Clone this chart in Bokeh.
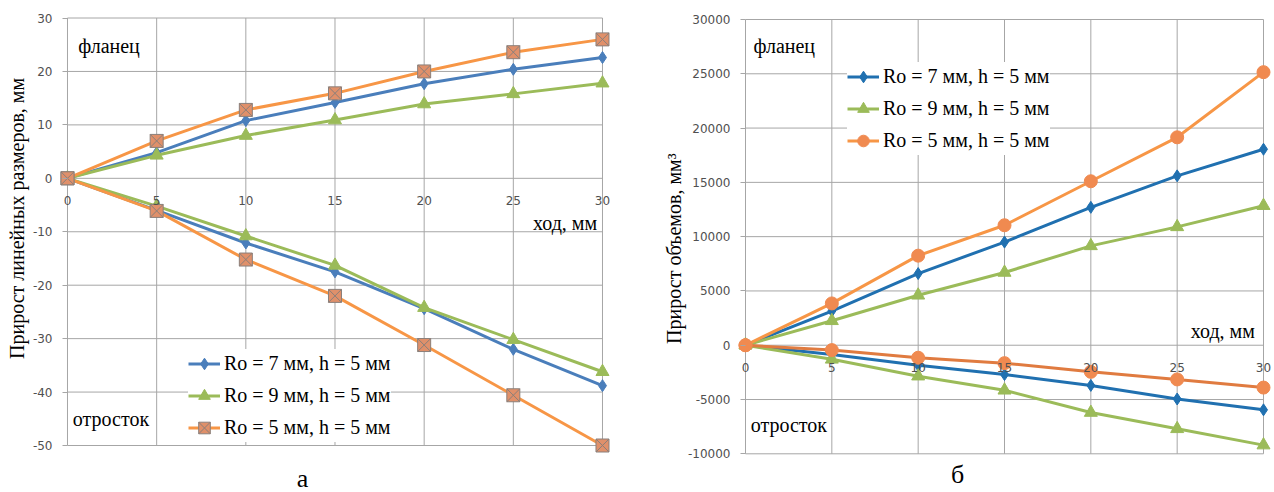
import math
from bokeh.plotting import figure
from bokeh.layouts import row
from bokeh.models import Range1d, FixedTicker, Label, Legend, LegendItem, PrintfTickFormatter
from bokeh.embed import file_html
from bokeh.resources import INLINE

# ---------------- data ----------------
x_mm = [0, 5, 10, 15, 20, 25, 30]
series_labels = ["Ro = 7 мм, h = 5 мм", "Ro = 9 мм, h = 5 мм", "Ro = 5 мм, h = 5 мм"]

# chart а: increase of linear sizes, mm (flange branch > 0, process branch < 0)
a_r7_flange = [0, 4.8, 10.8, 14.2, 17.7, 20.4, 22.6]
a_r7_process = [0, -6.0, -12.1, -17.5, -24.4, -32.0, -38.8]
a_r9_flange = [0, 4.3, 8.0, 10.9, 13.9, 15.8, 17.8]
a_r9_process = [0, -5.2, -10.8, -16.3, -24.2, -30.2, -36.2]
a_r5_flange = [0, 7.0, 12.8, 15.9, 20.0, 23.6, 26.0]
a_r5_process = [0, -6.1, -15.2, -22.0, -31.2, -40.6, -50.0]
a_yticks = [-50, -40, -30, -20, -10, 0, 10, 20, 30]

# chart б: increase of volumes, mm³
b_r7_flange = [0, 3150, 6600, 9500, 12700, 15600, 18050]
b_r7_process = [0, -850, -1850, -2700, -3700, -4950, -5950]
b_r9_flange = [0, 2250, 4600, 6700, 9150, 10900, 12850]
b_r9_process = [0, -1300, -2850, -4150, -6200, -7700, -9200]
b_r5_flange = [0, 3850, 8250, 11050, 15100, 19150, 25150]
b_r5_process = [0, -450, -1150, -1650, -2450, -3150, -3900]
b_yticks = [-10000, -5000, 0, 5000, 10000, 15000, 20000, 25000, 30000]

SERIF = "Liberation Serif"
SANS = "DejaVu Sans"
GRID = "#a6a6a6"


def base_fig(width, height, xr, yr, yticks):
    p = figure(width=width, height=height, output_backend="svg", toolbar_location=None,
               x_range=Range1d(*xr), y_range=Range1d(*yr), min_border=0)
    p.background_fill_color = "white"
    p.border_fill_color = "white"
    p.outline_line_color = None
    p.xgrid.grid_line_color = None
    p.ygrid.grid_line_color = None
    # grid drawn from the tick lists, limited to the plotting area of the original
    xmin, xmax = x_mm[0], x_mm[-1]
    ymin, ymax = yticks[0], yticks[-1]
    p.segment(x0=x_mm, y0=[ymin] * len(x_mm), x1=x_mm, y1=[ymax] * len(x_mm),
              line_color=GRID, line_width=1)
    p.segment(x0=[xmin] * len(yticks), y0=yticks, x1=[xmax] * len(yticks), y1=yticks,
              line_color=GRID, line_width=1)
    for ax in (p.xaxis, p.yaxis):
        ax.fixed_location = 0
        ax.axis_line_color = None
        ax.minor_tick_line_color = None
        ax.major_label_text_font = SANS
        ax.major_label_text_font_size = "12px"
        ax.major_label_text_color = "#505050"
        ax.formatter = PrintfTickFormatter(format="%d")
    p.xaxis.ticker = FixedTicker(ticks=x_mm)
    p.yaxis.ticker = FixedTicker(ticks=yticks)
    p.xaxis.major_tick_line_color = None
    p.xaxis.major_label_standoff = 12
    p.yaxis.major_tick_line_color = GRID
    p.yaxis.major_tick_in = 0
    p.yaxis.major_tick_out = 5
    p.yaxis.major_label_standoff = 10
    return p


def add_series(p, flange, process, color, color2, marker, size, mfill, mline):
    l1 = p.line(x_mm, flange, line_color=color, line_width=3)
    l2 = p.line(x_mm, process, line_color=color2, line_width=3)
    s1 = p.scatter(x_mm, flange, marker=marker, size=size, fill_color=mfill, line_color=mline)
    s2 = p.scatter(x_mm, process, marker=marker, size=size, fill_color=mfill, line_color=mline)
    return [l1, s1]


def add_text(p, x, y, text, align="left", size="20px", angle=0.0):
    p.add_layout(Label(x=x, y=y, text=text, text_font=SERIF, text_font_size=size,
                       text_align=align, text_baseline="middle", text_color="black",
                       angle=angle))


def add_legend(p, items, loc):
    lg = Legend(items=[LegendItem(label=lab, renderers=r) for lab, r in items], location=loc)
    lg.label_text_font = SERIF
    lg.label_text_font_size = "20px"
    lg.label_text_color = "black"
    lg.label_height = 29
    lg.glyph_height = 29
    lg.glyph_width = 32
    lg.spacing = 3
    lg.padding = 7
    lg.label_standoff = 4
    lg.border_line_color = None
    lg.background_fill_color = "white"
    lg.background_fill_alpha = 1
    p.add_layout(lg)


# ---------------- chart а ----------------
pa = base_fig(637, 492, (-3.757, 31.963), (-58.795, 33.275), a_yticks)
ra7 = add_series(pa, a_r7_flange, a_r7_process, "#4a7ebb", "#4a7ebb", "diamond", 12, "#4a7ebb", "#4a7ebb")
ra9 = add_series(pa, a_r9_flange, a_r9_process, "#9bbb59", "#9bbb59", "triangle", 13, "#9bbb59", "#9bbb59")
ra5 = add_series(pa, a_r5_flange, a_r5_process, "#f79646", "#f79646", "square_x", 13, "#e0906a", "#8a7f7a")
add_legend(pa, list(zip(series_labels, [ra7, ra9, ra5])), (188, 50))
add_text(pa, -2.85, -7.5, "Прирост линейных размеров, мм", align="center", angle=math.pi / 2)
add_text(pa, 0.6, 24.8, "фланец")
add_text(pa, 0.3, -45.1, "отросток")
add_text(pa, 29.7, -8.4, "ход, мм", align="right")
add_text(pa, 13.18, -56.2, "а", align="center", size="26px")

# ---------------- chart б ----------------
pb = base_fig(637, 492, (-6.255, 30.637), (-13564, 31750), b_yticks)
rb7 = add_series(pb, b_r7_flange, b_r7_process, "#2070b0", "#2070b0", "diamond", 12, "#2070b0", "#2070b0")
rb9 = add_series(pb, b_r9_flange, b_r9_process, "#9bbb59", "#9bbb59", "triangle", 13, "#9bbb59", "#9bbb59")
rb5 = add_series(pb, b_r5_flange, b_r5_process, "#f79646", "#e07b40", "circle", 13, "#f08a50", "#f08a50")
add_legend(pb, list(zip(series_labels, [rb7, rb9, rb5])), (210, 337))
add_text(pb, -4.17, 8900, "Прирост объемов, мм³", align="center", angle=math.pi / 2)
add_text(pb, 0.46, 27600, "фланец")
add_text(pb, 0.3, -7370, "отросток")
add_text(pb, 29.5, 1320, "ход, мм", align="right")
add_text(pb, 12.28, -11910, "б", align="center", size="26px")

layout = row(pa, pb)
open("out.html", "w").write(file_html(layout, INLINE))
